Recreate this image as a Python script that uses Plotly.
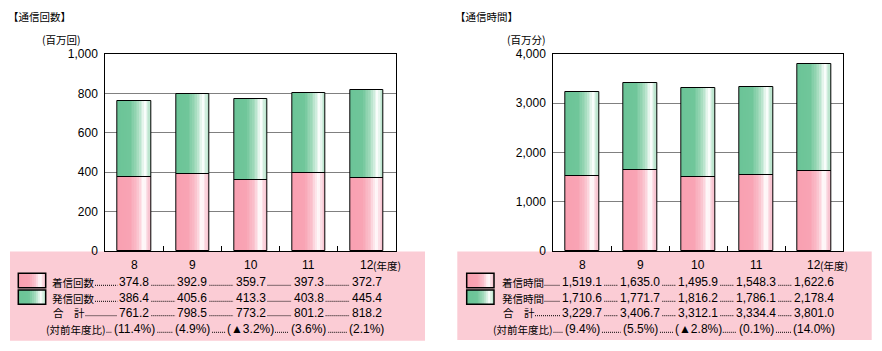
import plotly.graph_objects as go

# ---------------- data ----------------
years = ["8", "9", "10", "11", "12"]
year_suffix = "(年度)"

calls_in = [374.8, 392.9, 359.7, 397.3, 372.7]
calls_out = [386.4, 405.6, 413.3, 403.8, 445.4]
calls_total = [761.2, 798.5, 773.2, 801.2, 818.2]
calls_yoy = ["(11.4%)", "(4.9%)", "(▲3.2%)", "(3.6%)", "(2.1%)"]

mins_in = [1519.1, 1635.0, 1495.9, 1548.3, 1622.6]
mins_out = [1710.6, 1771.7, 1816.2, 1786.1, 2178.4]
mins_total = [3229.7, 3406.7, 3312.1, 3334.4, 3801.0]
mins_yoy = ["(9.4%)", "(5.5%)", "(▲2.8%)", "(0.1%)", "(14.0%)"]

# ---------------- layout helpers ----------------
W, H = 882, 351
FONT = "Noto Sans CJK JP"
NUM_FONT = "Liberation Sans, Noto Sans CJK JP"
FS_NUM = 12
FS_JP = 10.5
FS_TITLE = 10.5


def px(x):
    return x / W


def py(y):
    return 1 - y / H


PLOT_TOP, PLOT_BOT = 54, 251
ROW_CAT, ROW1, ROW2, ROW3, ROW4 = 265, 282.3, 298.3, 312.7, 329.3
BAR_W = 0.57
N_SLICES = 20

pink_stops = [(0, (249, 160, 177)), (0.38, (249, 164, 180)), (0.62, (250, 196, 207)),
              (0.8, (255, 255, 255)), (0.88, (251, 222, 229)), (1, (247, 192, 205))]
green_stops = [(0, (107, 196, 151)), (0.38, (112, 198, 154)), (0.62, (166, 220, 191)),
               (0.84, (255, 255, 255)), (0.9, (216, 240, 227)), (1, (182, 227, 202))]
BAND_COLOR = "#FBCCD5"


def grad(stops, t):
    for (t0, c0), (t1, c1) in zip(stops[:-1], stops[1:]):
        if t <= t1:
            f = (t - t0) / (t1 - t0) if t1 > t0 else 0
            c = [round(a + (b - a) * f) for a, b in zip(c0, c1)]
            return "rgb(%d,%d,%d)" % tuple(c)
    return "rgb(%d,%d,%d)" % stops[-1][1]


def tw(s, fs):
    w = 0
    for ch in s:
        if ch.isdigit():
            w += 0.556
        elif ch in ",.":
            w += 0.278
        elif ch == "%":
            w += 0.889
        elif ch in "()":
            w += 0.333
        elif ch == "▲":
            w += 0.8
        else:
            w += 1.0
    return w * fs


def txt(text, xref, x, y, size, xanchor="center", xshift=0, family=FONT):
    return dict(text=text, xref=xref, yref="paper", x=x, y=y, xshift=xshift,
                xanchor=xanchor, yanchor="middle", showarrow=False, borderpad=0,
                font=dict(size=size, color="black", family=family))


panels = [
    dict(xa="x", ya="y", axn="", x0=105.3, x1=395.7, ymax=1000, dtick=200,
         band=(10, 425, 340.7), title="【通信回数】", title_x=7, unit="(百万回)", unit_x=41,
         names=["着信回数", "発信回数"], vin=calls_in, vout=calls_out, total=calls_total,
         yoy=calls_yoy, sw=(18.3, 45.7), label_x=51, yoy_x=45, fmt="{:.1f}"),
    dict(xa="x2", ya="y2", axn="2", x0=553.3, x1=843.3, ymax=4000, dtick=1000,
         band=(457.3, 871.7, 340), title="【通信時間】", title_x=454, unit="(百万分)", unit_x=506,
         names=["着信時間", "発信時間"], vin=mins_in, vout=mins_out, total=mins_total,
         yoy=mins_yoy, sw=(466.7, 494), label_x=500.5, yoy_x=492, fmt="{:,.1f}"),
]

fig = go.Figure()
shapes = []
annotations = []
xs = list(range(len(years)))

for p in panels:
    base0 = [0] * len(xs)
    # gradient slices for each stacked segment
    for vals, base, stops in ((p["vin"], base0, pink_stops), (p["vout"], p["vin"], green_stops)):
        sw = BAR_W / N_SLICES
        for k in range(N_SLICES):
            off = -BAR_W / 2 + k * sw
            wid = min(sw * 1.7, BAR_W / 2 - off)
            fig.add_trace(go.Bar(
                x=xs, y=vals, base=base, width=wid, offset=off,
                marker=dict(color=grad(stops, (k + 0.5) / N_SLICES), line=dict(width=0)),
                xaxis=p["xa"], yaxis=p["ya"], showlegend=False, hoverinfo="skip"))
    for vals, base in ((p["vin"], base0), (p["vout"], p["vin"])):
        fig.add_trace(go.Bar(
            x=xs, y=vals, base=base, width=BAR_W,
            marker=dict(color="rgba(0,0,0,0)", line=dict(color="black", width=1)),
            xaxis=p["xa"], yaxis=p["ya"], showlegend=False, hoverinfo="skip"))

    # pink table band
    bx0, bx1, by1 = p["band"]
    shapes.append(dict(type="rect", xref="paper", yref="paper", x0=px(bx0), x1=px(bx1),
                       y0=py(by1), y1=py(PLOT_BOT + 0.5), fillcolor=BAND_COLOR,
                       line=dict(width=0), layer="below"))

    # titles
    annotations.append(txt(p["title"], "paper", px(p["title_x"]), py(16.7), FS_TITLE, "left"))
    annotations.append(txt(p["unit"], "paper", px(p["unit_x"]), py(39.5), FS_TITLE, "left"))

    # category labels
    for i, yv in enumerate(years):
        annotations.append(txt(yv, p["xa"], i, py(ROW_CAT), FS_NUM, family=NUM_FONT))
    annotations.append(txt(year_suffix, p["xa"], len(years) - 1, py(ROW_CAT), FS_JP,
                           "left", xshift=5))

    # legend swatches
    sx0, sx1 = p["sw"]
    for (sy0, sy1), stops in (((273.3, 287.7), pink_stops), ((290, 304.3), green_stops)):
        n = 14
        for k in range(n):
            a = sx0 + (sx1 - sx0) * k / n
            b = min(sx0 + (sx1 - sx0) * (k + 1.6) / n, sx1)
            shapes.append(dict(type="rect", xref="paper", yref="paper", x0=px(a), x1=px(b),
                               y0=py(sy1), y1=py(sy0), fillcolor=grad(stops, (k + 0.5) / n),
                               line=dict(width=0), layer="above"))
        shapes.append(dict(type="rect", xref="paper", yref="paper", x0=px(sx0), x1=px(sx1),
                           y0=py(sy1), y1=py(sy0), fillcolor="rgba(0,0,0,0)",
                           line=dict(color="black", width=1.5), layer="above"))

    # table rows
    cw = (p["x1"] - p["x0"]) / len(years)
    centers = [p["x0"] + (i + 0.5) * cw for i in xs]
    rows = [
        (p["names"][0], p["label_x"], ROW1, [p["fmt"].format(v) for v in p["vin"]]),
        (p["names"][1], p["label_x"], ROW2, [p["fmt"].format(v) for v in p["vout"]]),
        ("合\u3000計", p["label_x"] + 1, ROW3, [p["fmt"].format(v) for v in p["total"]]),
        ("(対前年度比)", p["yoy_x"], ROW4, p["yoy"]),
    ]
    for label, lx, ry, vals in rows:
        annotations.append(txt(label, "paper", px(lx), py(ry), FS_JP, "left"))
        for i, v in enumerate(vals):
            annotations.append(txt(v, p["xa"], i, py(ry), FS_NUM, family=NUM_FONT))
        # dotted leaders
        start = lx + tw(label, FS_JP) + 2
        for i, v in enumerate(vals):
            end = centers[i] - tw(v, FS_NUM) / 2 - 2
            if end - start > 2:
                shapes.append(dict(type="line", xref="paper", yref="paper", x0=px(start),
                                   x1=px(end), y0=py(ry + 3), y1=py(ry + 3),
                                   line=dict(color="black", width=1, dash="1px,1px")))
            start = centers[i] + tw(v, FS_NUM) / 2 + 2

    # axes
    xaxis = dict(domain=[px(p["x0"]), px(p["x1"])], anchor=p["ya"], range=[-0.5, len(years) - 0.5],
                 tickvals=[i + 0.5 for i in xs[:-1]], ticks="inside", ticklen=5, tickcolor="black",
                 showticklabels=False, showgrid=False, zeroline=False, showline=True,
                 linecolor="black", linewidth=1, mirror=True, fixedrange=True, automargin=False)
    yaxis = dict(domain=[py(PLOT_BOT), py(PLOT_TOP)], anchor=p["xa"], range=[0, p["ymax"]],
                 dtick=p["dtick"], tickformat=",", showgrid=True, gridcolor="#808080",
                 gridwidth=1, zeroline=False, showline=True, linecolor="black", linewidth=1,
                 mirror=True, ticks="", ticklabelstandoff=4, automargin=False,
                 tickfont=dict(size=FS_NUM, color="black", family=NUM_FONT), fixedrange=True)
    fig.update_layout(**{"xaxis" + p["axn"]: xaxis, "yaxis" + p["axn"]: yaxis})

fig.update_layout(
    width=W, height=H, margin=dict(l=0, r=0, t=0, b=0, autoexpand=False),
    paper_bgcolor="white", plot_bgcolor="white",
    barmode="overlay", bargap=0, showlegend=False,
    font=dict(family=FONT, color="black"),
    shapes=shapes, annotations=annotations,
)

fig.write_html("out.html")
